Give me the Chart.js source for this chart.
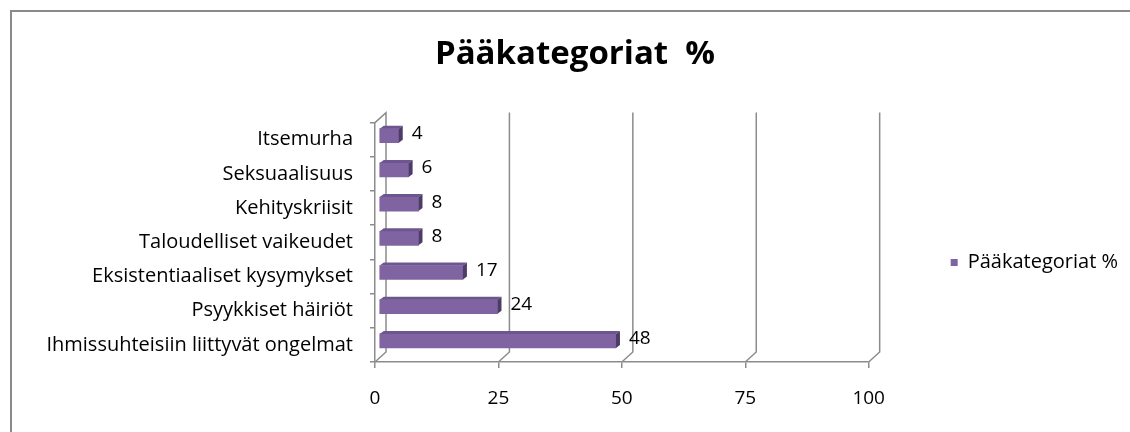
<!DOCTYPE html>
<html>
<head>
<meta charset="utf-8">
<script src="https://cdn.jsdelivr.net/npm/chart.js@4.4.1/dist/chart.umd.min.js"></script>
<style>
    html, body { margin: 0; padding: 0; background: #fff; }
    #wrap { position: relative; width: 1130px; height: 432px; overflow: hidden; }
    #frame { position: absolute; left: 10px; top: 10px; width: 1200px; height: 500px; border-left: 2px solid #8a8a8a; border-top: 2px solid #8a8a8a; }
    canvas { position: absolute; left: 0; top: 0; }
</style>
</head>
<body>
<div id="wrap">
    <div id="frame"></div>
    <canvas id="chart" width="1130" height="432"></canvas>
</div>
<script>
const categories = [
    'Itsemurha',
    'Seksuaalisuus',
    'Kehityskriisit',
    'Taloudelliset vaikeudet',
    'Eksistentiaaliset kysymykset',
    'Psyykkiset häiriöt',
    'Ihmissuhteisiin liittyvät ongelmat'
];
const values = [4, 6, 8, 8, 17, 24, 48];
const xTicks = [0, 25, 50, 75, 100];
const seriesLabel = 'Pääkategoriat %';
const titleText = 'Pääkategoriat  %';

const FONT = '"Open Sans", Lato, sans-serif';
const COLORS = {
    front: '#8064A2',
    top: '#6D5690',
    side: '#4E3C68',
    axis: '#8c8c8c',
    text: '#000000'
};
const DEPTH = { dx: 11, dy: -10 };   // back wall offset
const BAR_SHIFT = { dx: 4, dy: -4 }; // bars sit halfway in depth
const BAR_DEPTH = { dx: 4, dy: -3 };
const SIDE_PAD = 2; // keeps the title centred while the legend eats the right side

// 3d grid: back wall lines plus the floor diagonals
const wallGrid = {
    id: 'wallGrid',
    beforeDatasetsDraw(chart) {
        const { ctx, chartArea: { top, bottom }, scales: { x } } = chart;
        ctx.save();
        ctx.strokeStyle = COLORS.axis;
        ctx.lineWidth = 1.5;
        xTicks.forEach(v => {
            const px = x.getPixelForValue(v);
            ctx.beginPath();
            ctx.moveTo(px, bottom);
            ctx.lineTo(px + DEPTH.dx, bottom + DEPTH.dy);
            ctx.lineTo(px + DEPTH.dx, top + DEPTH.dy);
            if (v === xTicks[0]) ctx.lineTo(px, top);
            ctx.stroke();
        });
        ctx.restore();
        ctx.save();
        ctx.translate(BAR_SHIFT.dx, BAR_SHIFT.dy);
    },
    afterDatasetsDraw(chart) {
        const { ctx } = chart;
        const meta = chart.getDatasetMeta(0);
        meta.data.forEach(bar => {
            const { x, y, base, height } = bar.getProps(['x', 'y', 'base', 'height'], true);
            const t = y - height / 2;
            const b = y + height / 2;
            const { dx, dy } = BAR_DEPTH;
            ctx.fillStyle = COLORS.top;
            ctx.beginPath();
            ctx.moveTo(base, t);
            ctx.lineTo(base + dx, t + dy);
            ctx.lineTo(x + dx, t + dy);
            ctx.lineTo(x, t);
            ctx.closePath();
            ctx.fill();
            ctx.fillStyle = COLORS.side;
            ctx.beginPath();
            ctx.moveTo(x, t);
            ctx.lineTo(x + dx, t + dy);
            ctx.lineTo(x + dx, b + dy);
            ctx.lineTo(x, b);
            ctx.closePath();
            ctx.fill();
        });
        ctx.restore();

        // value labels
        ctx.save();
        ctx.font = '19px ' + FONT;
        ctx.fillStyle = COLORS.text;
        ctx.textAlign = 'left';
        ctx.textBaseline = 'middle';
        meta.data.forEach((bar, i) => {
            const { x, y } = bar.getProps(['x', 'y'], true);
            ctx.fillText(String(values[i]), x + BAR_SHIFT.dx + 13, y + BAR_SHIFT.dy - 2);
        });
        ctx.restore();
    }
};

new Chart(document.getElementById('chart'), {
    type: 'bar',
    data: {
        labels: categories,
        datasets: [{
            label: seriesLabel,
            data: values,
            backgroundColor: COLORS.front,
            borderWidth: 0,
            barThickness: 14
        }]
    },
    options: {
        indexAxis: 'y',
        responsive: false,
        animation: false,
        events: [],
        layout: { padding: { left: 20 + SIDE_PAD, right: SIDE_PAD, top: 0, bottom: 0 } },
        scales: {
            x: {
                min: 0,
                max: 100,
                afterBuildTicks: scale => { scale.ticks = xTicks.map(v => ({ value: v })); },
                afterFit: scale => { scale.height = 70; },
                border: { display: true, color: COLORS.axis, width: 1.5 },
                grid: { drawOnChartArea: false, drawTicks: true, tickLength: 6, color: COLORS.axis, lineWidth: 1.5 },
                ticks: { color: COLORS.text, padding: 19, font: { family: FONT, size: 19 } }
            },
            y: {
                afterFit: scale => { scale.width = 375 - 20 - SIDE_PAD; },
                border: { display: true, color: COLORS.axis, width: 1.5 },
                grid: { drawOnChartArea: false, drawTicks: true, tickLength: 5, color: COLORS.axis, lineWidth: 1.5 },
                ticks: { color: COLORS.text, padding: 17, font: { family: FONT, size: 20 } }
            }
        },
        plugins: {
            title: {
                display: true,
                text: titleText,
                color: COLORS.text,
                font: { family: FONT, size: 33, weight: 'bold' },
                padding: { top: 35, bottom: 48 }
            },
            legend: {
                position: 'right',
                fullSize: false,
                title: { display: true, text: '', padding: { top: 26, bottom: 0 } },
                labels: {
                    color: COLORS.text,
                    boxWidth: 7,
                    boxHeight: 7,
                    padding: 82,
                    font: { family: FONT, size: 20 }
                }
            },
            tooltip: { enabled: false }
        }
    },
    plugins: [wallGrid]
});
</script>
</body>
</html>
